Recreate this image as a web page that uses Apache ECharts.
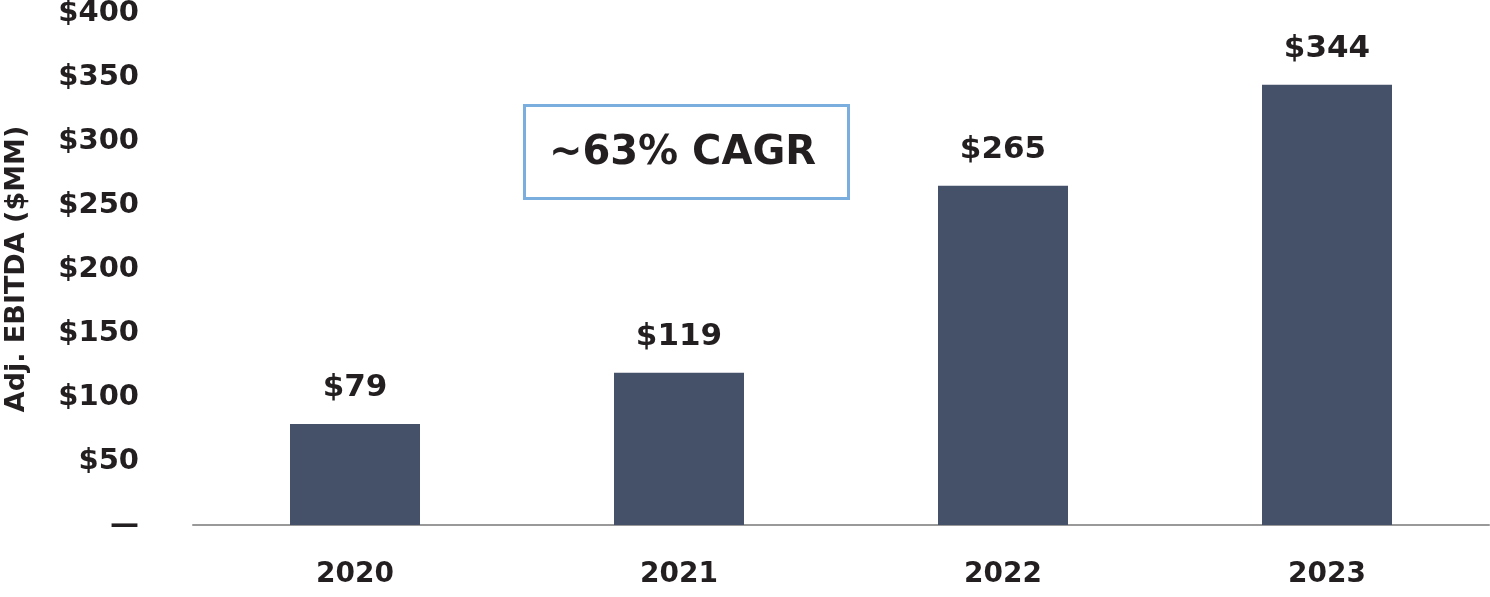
<!DOCTYPE html>
<html><head><meta charset="utf-8">
<script src="https://cdn.jsdelivr.net/npm/echarts@6/dist/echarts.min.js"></script>
<style>html,body{margin:0;padding:0;background:#fff}#c{width:1490px;height:597px}</style>
</head><body><div id="c"></div>
<script>
const categories = ['2020', '2021', '2022', '2023'];
const ebitda = [79, 119, 265, 344];
const yTicks = [0, 50, 100, 150, 200, 250, 300, 350, 400];
const yTitle = 'Adj. EBITDA ($MM)';
const cagrText = '~63% CAGR';

const FONT = '"DejaVu Sans", sans-serif';
const TXT = '#231f20';
const chart = echarts.init(document.getElementById('c'));
chart.setOption({
  animation: false,
  grid: { left: 193, right: 1, top: 13, bottom: 72, outerBoundsMode: 'none', containLabel: false },
  xAxis: {
    type: 'category', data: categories,
    axisLine: { lineStyle: { color: '#999999', width: 2 } },
    axisTick: { show: false },
    axisLabel: { color: TXT, fontFamily: FONT, fontWeight: 'bold', fontSize: 28, margin: 36 }
  },
  yAxis: {
    type: 'value', min: yTicks[0], max: yTicks[yTicks.length - 1], interval: 50,
    name: yTitle, nameLocation: 'middle', nameGap: 163, nameRotate: 90,
    nameTextStyle: { color: TXT, fontFamily: FONT, fontWeight: 'bold', fontSize: 27 },
    axisLine: { show: false }, axisTick: { show: false }, splitLine: { show: false },
    axisLabel: {
      color: TXT, fontFamily: FONT, fontWeight: 'bold', fontSize: 29, margin: 54,
      formatter: v => v === 0 ? '—' : '$' + v
    }
  },
  series: [{
    type: 'bar', data: ebitda, barWidth: 130,
    itemStyle: { color: '#455069' },
    label: {
      show: true, position: 'top', distance: 20,
      color: TXT, fontFamily: FONT, fontWeight: 'bold', fontSize: 31,
      formatter: p => '$' + p.value
    }
  }],
  graphic: [{
    type: 'group', left: 523, top: 104,
    children: [
      { type: 'rect', shape: { x: 0, y: 0, width: 324, height: 93 },
        style: { fill: '#fff', stroke: '#7aaedf', lineWidth: 3 } },
      { type: 'text', x: 158, y: 48,
        style: { text: cagrText, fill: TXT, font: 'bold 40px ' + FONT, align: 'center', verticalAlign: 'middle' } }
    ]
  }]
});
</script></body></html>
